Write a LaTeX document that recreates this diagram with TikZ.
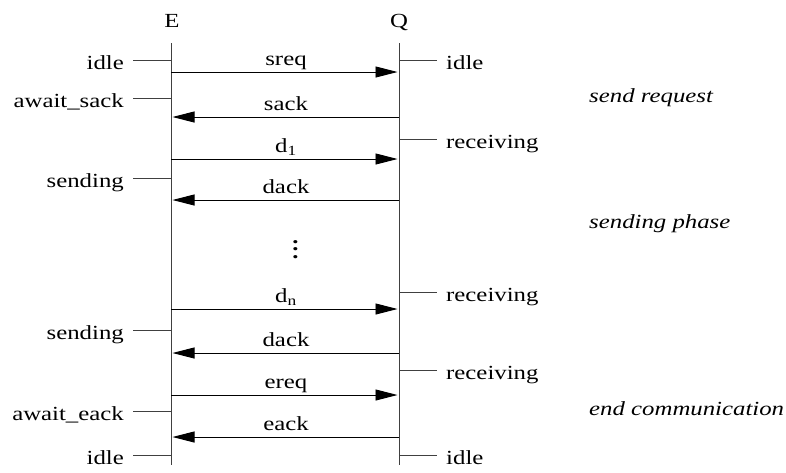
\documentclass[tikz,border=0pt]{standalone}
\usepackage{fontspec}
\setmainfont{Liberation Serif}[FakeStretch=1.24]
\usetikzlibrary{arrows.meta}
\newcommand{\bigfont}{\fontsize{20}{24}\selectfont}
\tikzset{
  life/.style={draw=black!75, line width=1pt},
  tick/.style={draw=black!75, line width=1pt},
  msg/.style={draw=black, line width=0.9pt, -{Triangle[length=22pt,width=11pt]}, shorten >=1.5pt},
  lstate/.style={anchor=base east, inner sep=0pt},
  rstate/.style={anchor=base west, inner sep=0pt},
  mlabel/.style={anchor=base, inner sep=0pt},
  phase/.style={anchor=base west, inner sep=0pt, font=\bigfont\itshape},
}
\begin{document}
\begin{tikzpicture}[x=1pt,y=-1pt, font=\bigfont]
\useasboundingbox (0,0) rectangle (786,472);
% actors
\node[mlabel] (E) at (172,27) {E};
\node[mlabel] (Q) at (399,27) {Q};
\coordinate (Etop) at (171,43); \coordinate (Ebot) at (171,465);
\coordinate (Qtop) at (399,43); \coordinate (Qbot) at (399,465);
\draw[life] (Etop) -- (Ebot);
\draw[life] (Qtop) -- (Qbot);
% left states
\foreach \y/\t [count=\i] in {60/idle, 98/await\_sack, 178/sending, 330/sending, 411/await\_eack, 455/idle}{
  \coordinate (lt\i) at (133,\y);
  \coordinate (le\i) at (171,\y);
  \draw[tick] (lt\i) -- (le\i);
  \node[lstate] (ls\i) at (124,\y+9) {\t};
}
% right states
\foreach \y/\t [count=\i] in {60/idle, 139/receiving, 292/receiving, 370/receiving, 455/idle}{
  \coordinate (rq\i) at (399,\y);
  \coordinate (rt\i) at (437,\y);
  \draw[tick] (rq\i) -- (rt\i);
  \node[rstate] (rs\i) at (446,\y+9) {\t};
}
% messages
\foreach \y/\d/\t [count=\i] in {72/r/sreq, 117/l/sack, 159/r/{d\textsubscript{1}}, 200/l/dack, 309/r/{d\textsubscript{n}}, 353/l/dack, 395/r/ereq, 437/l/eack}{
  \coordinate (me\i) at (171,\y);
  \coordinate (mq\i) at (399,\y);
  \if r\d
    \draw[msg] (me\i) -- (mq\i);
  \else
    \draw[msg] (mq\i) -- (me\i);
  \fi
  \node[mlabel] (ml\i) at (286,\y-7) {\t};
}
\node[inner sep=0pt, anchor=south, font=\bigfont\bfseries] (dots) at (295.5,258.5) {\vbox{\baselineskip=7.5pt\lineskiplimit=0pt\hbox{.}\hbox{.}\hbox{.}}};
% phases
\node[phase] (p1) at (589,102) {send request};
\node[phase] (p2) at (589,228) {sending phase};
\node[phase] (p3) at (589,415) {end communication};
\end{tikzpicture}
\end{document}
